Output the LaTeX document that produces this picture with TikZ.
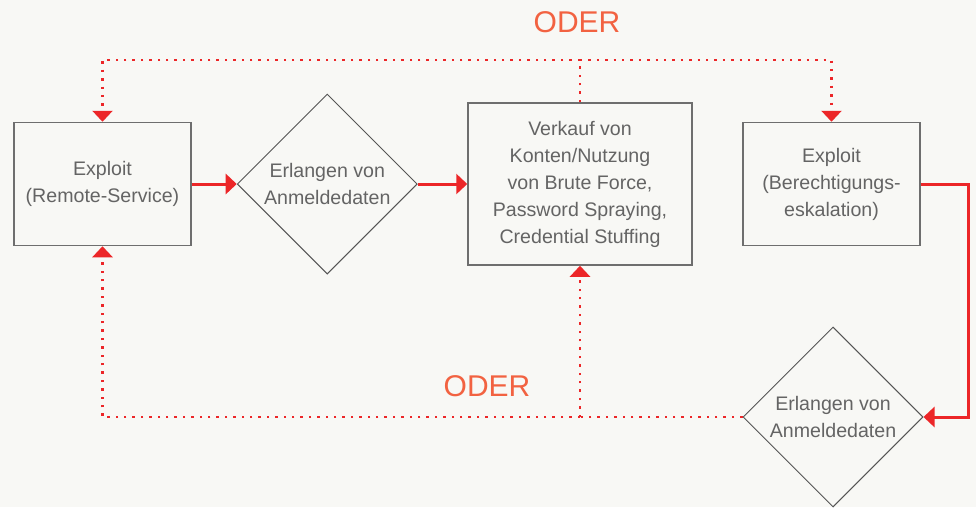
\documentclass[tikz,border=0pt]{standalone}
\usepackage{fontspec}
\setmainfont{Liberation Sans}
\usetikzlibrary{arrows.meta,positioning,shapes.geometric}
\definecolor{pagebg}{RGB}{248,248,245}
\definecolor{boxgray}{RGB}{110,110,110}
\definecolor{diagray}{RGB}{85,85,85}
\definecolor{txtgray}{RGB}{100,100,100}
\definecolor{attred}{RGB}{236,38,40}
\definecolor{odercol}{RGB}{242,98,65}

\begin{document}
\begin{tikzpicture}[x=1pt,y=-1pt,
      box/.style={draw=boxgray,line width=1.5pt,fill=pagebg,
                  minimum width=177pt,minimum height=123pt,inner sep=0pt,
                  font=\fontsize{19.6}{27}\selectfont,text=txtgray,align=center},
      dec/.style={diamond,aspect=1,draw=diagray,line width=1pt,
                  minimum size=180pt,inner sep=0pt,
                  font=\fontsize{19.6}{27}\selectfont,text=txtgray,align=center},
      arr/.style={-{Triangle[width=20pt,length=11pt]},attred,line width=3pt},
      dots/.style={attred,line width=2.4pt,dash pattern=on 2.4pt off 6pt},
      dotarr/.style={dots,-{Triangle[width=20pt,length=11pt]}},
      oder/.style={text=odercol,font=\fontsize{30}{30}\selectfont}
    ]
      \useasboundingbox[fill=pagebg] (0,0) rectangle (976,507);
      \node[box] (exp1) at (102.5,184) {Exploit\\(Remote-Service)};
      \node[dec,right=45pt of exp1] (cred1) {Erlangen von\\Anmeldedaten};
      \node[box,minimum width=224pt,minimum height=162pt,right=49.5pt of cred1] (sale)
           {Verkauf von\\Konten/Nutzung\\von Brute Force,\\Password Spraying,\\Credential Stuffing};
      \node[box,right=49.5pt of sale] (exp2) {Exploit\\(Berechtigungs-\\eskalation)};
      \node[dec] (cred2) at (833,417) {Erlangen von\\Anmeldedaten};
      \node[oder] (or1) at (577,22) {ODER};
      \node[oder] (or2) at (487,386) {ODER};
      \draw[arr] (exp1) -- (cred1);
      \draw[arr] (cred1) -- (sale);
      \draw[arr] (exp2.east) -- ++(48,0) |- (cred2.east);
      % oberer ODER-Zweig
      \coordinate (top) at (sale.north |- 0,60);
      \draw[dots] (sale.north) -- (top);
      \draw[dotarr] (top) -| (exp1.north);
      \draw[dotarr] (top) -| (exp2.north);
      % unterer ODER-Zweig
      \coordinate (bot) at (sale.south |- cred2.west);
      \draw[dots] (cred2.west) -- (bot);
      \draw[dotarr] (bot) -| (exp1.south);
      \draw[dotarr] (bot) -- (sale.south);
    \end{tikzpicture}
\end{document}
